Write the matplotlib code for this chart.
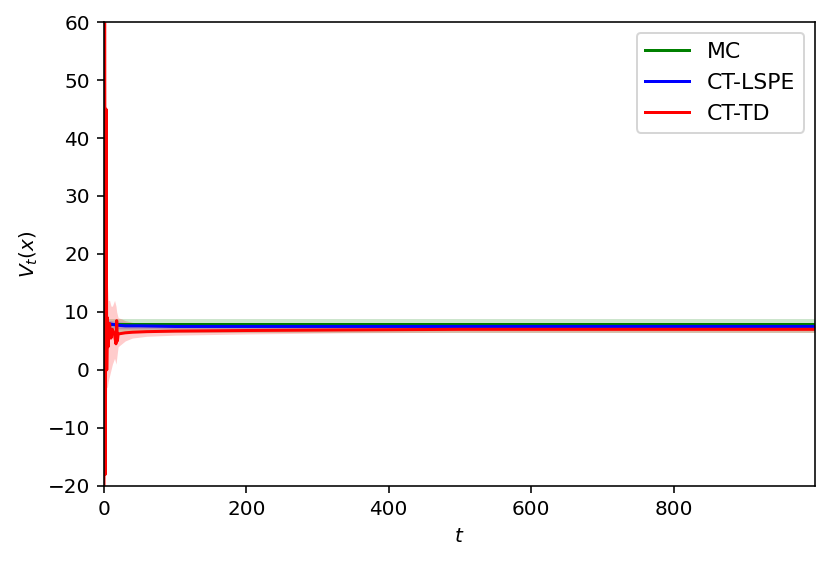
import matplotlib as mpl
mpl.use('Agg')
import matplotlib.pyplot as plt

# MC estimate (flat) with its band
t_mc = [0, 100, 300, 500, 700, 999]
mc = [7.9, 7.9, 7.9, 7.9, 7.9, 7.9]
mc_lo = [6.3, 6.3, 6.3, 6.3, 6.3, 6.3]
mc_hi = [8.7, 8.7, 8.7, 8.7, 8.7, 8.7]

# CT-LSPE
t_lspe = [0, 2, 5, 10, 15, 20, 30, 50, 100, 200, 400, 600, 800, 999]
lspe = [8.3, 8.1, 8.0, 7.9, 7.8, 7.7, 7.6, 7.6, 7.5, 7.5, 7.5, 7.5, 7.5, 7.5]
lspe_lo = [7.2, 7.3, 7.3, 7.2, 7.2, 7.1, 7.1, 7.1, 7.1, 7.1, 7.1, 7.1, 7.1, 7.1]
lspe_hi = [9.0, 8.8, 8.6, 8.5, 8.4, 8.3, 8.2, 8.1, 8.0, 8.0, 8.0, 8.0, 8.0, 8.0]

# CT-TD
t_td = [0, 1, 2, 3, 4, 5, 6, 8, 10, 12, 15, 17, 18, 19, 20, 25, 30, 40, 60, 100,
        200, 340, 500, 700, 999]
td = [-20, 60, -18, 45, 0, 9, 4, 8, 5.5, 7, 6, 4.5, 8.5, 5, 6.2, 6.3, 6.4, 6.5, 6.6,
      6.7, 6.8, 6.9, 7.0, 7.0, 7.0]
td_lo = [-20, -20, -20, -10, -3, -3, -2, -1, 0, 1, 2, 1, 2, 3, 4, 4.5, 5, 5.5, 5.8,
         6.0, 6.2, 6.4, 6.5, 6.5, 6.5]
td_hi = [60, 60, 60, 60, 20, 15, 12, 12, 11, 11, 12, 11, 10, 9.5, 9, 8.8, 8.5, 8.2,
         8.0, 7.8, 7.7, 7.6, 7.6, 7.6, 7.6]

fig = plt.figure(figsize=(831 / 144, 565 / 144), dpi=144)
ax = fig.add_axes([0.125, 0.14, 0.856, 0.821])

ax.fill_between(t_mc, mc_lo, mc_hi, color='green', alpha=0.2, linewidth=0)
ax.fill_between(t_lspe, lspe_lo, lspe_hi, color='blue', alpha=0.2, linewidth=0)
ax.fill_between(t_td, td_lo, td_hi, color='red', alpha=0.2, linewidth=0)

ax.plot(t_mc, mc, color='green', linewidth=1.5, label='MC')
ax.plot(t_lspe, lspe, color='blue', linewidth=1.5, label='CT-LSPE')
ax.plot(t_td, td, color='red', linewidth=1.5, label='CT-TD')

ax.set_xlim(0, 999)
ax.set_ylim(-20, 60)
ax.set_xticks([0, 200, 400, 600, 800])
ax.set_yticks([-20, -10, 0, 10, 20, 30, 40, 50, 60])
ax.set_xlabel('$t$')
ax.set_ylabel('$V_t(x)$')
ax.legend(loc='upper right', fontsize=11)

fig.savefig('out.png', dpi=144)
